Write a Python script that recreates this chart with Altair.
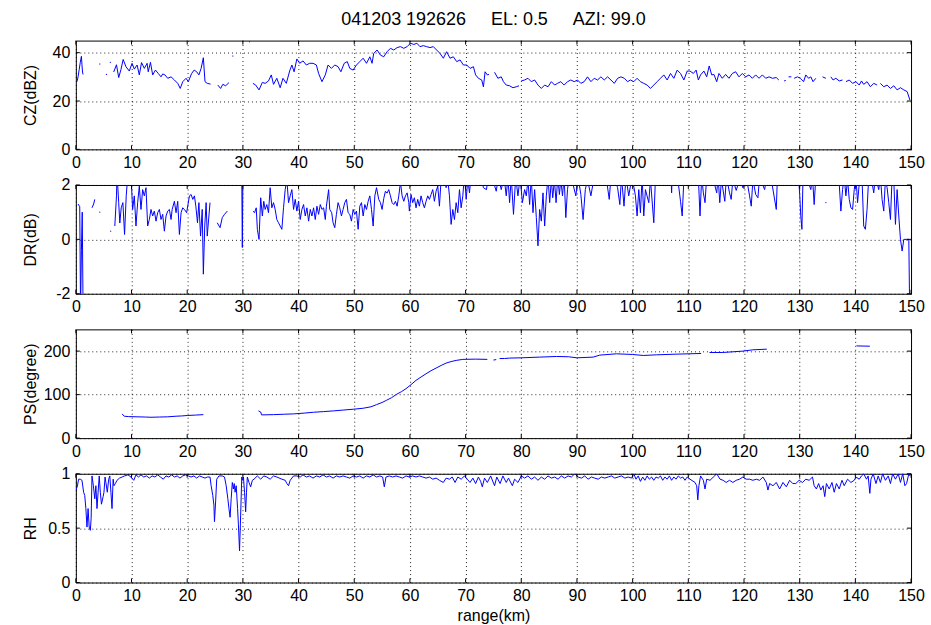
import altair as alt
import pandas as pd

# ---------------------------------------------------------------------------
# Radar ray data: (range km, value) pairs, None marks a gap in the ray
# ---------------------------------------------------------------------------
CZ = [
    (0.2, 28), (0.4, 30), (0.6, 33), (0.8, 36), (1.0, 38.5), (1.1, 35), (1.2, 32), (1.3, 31), None,
    (4.2, 35.3), (4.4, 35.3), None, (5.4, 31), (5.6, 31), None, (6.1, 36), (6.3, 36), None,
    (6.8, 32), (7.3, 35), (7.7, 29.7), (8.1, 33), (8.5, 37.2), (9.0, 34.2), (9.6, 32.4), (10.1, 35.6),
    (10.5, 33.2), (11.0, 34.9), (11.4, 30.8), (11.8, 35.9), (12.3, 33.5), (12.8, 35.6), (13.0, 32.1),
    (13.4, 36), (13.8, 30.8), (14.3, 32.8), (14.8, 31.4), (15.3, 30), (15.6, 31.2), (16.0, 30.8),
    (16.5, 29.4), (17.1, 30), (17.7, 28.7), (18.3, 27.3), (18.75, 25.2), (19.2, 28), (19.8, 29.4),
    (20.2, 28), (20.8, 31.4), (21.25, 32.8), (21.7, 32.1), (22.1, 30.8), (22.5, 33.5), (22.9, 37.9),
    (23.2, 28), (23.6, 27.3), (24.2, 27), None,
    (25.5, 26.6), (26.0, 25.2), (26.4, 26.9), (26.9, 26.3), (27.5, 27.6), None,
    (28.1, 38.6), (28.3, 38.6), None, (31.1, 44.5), (31.3, 44.5), None,
    (31.8, 27.3), (32.3, 26.6), (32.9, 24.6), (33.5, 27.7), (34.0, 27.3), (34.6, 28.3), (35.1, 30.8),
    (35.5, 26.9), (36.1, 29.4), (36.7, 25.5), (37.2, 29.4), (37.8, 27.3), (38.4, 32.4), (38.8, 34.9),
    (39.2, 32.1), (39.7, 37.4), (40.2, 35.6), (40.8, 36.6), (41.4, 34.9), (42.0, 35.6), (42.6, 35.6),
    (43.2, 34.9), (43.6, 31.4), (44.2, 28), (44.8, 30.8), (45.3, 34.9), (45.9, 33.5), (46.5, 34.9),
    (47.1, 34.2), (47.6, 32.1), (48.2, 35.6), (48.75, 36.3), (49.2, 33.5), (49.8, 32.8), (50.4, 34.9),
    (51.0, 36.3), (51.6, 37.7), (52.2, 35.6), (52.8, 38.3), (53.2, 35.6), (53.5, 39.7), (54.1, 41.1),
    (54.7, 39), (55.3, 38.3), (55.9, 40.4), (56.5, 41.8), (57.1, 41.1), (57.7, 42.1), (58.3, 42.5),
    (58.9, 41.8), (59.5, 42.5), (60.1, 43.9), (60.7, 43.4), (61.25, 43.9), (61.8, 42.5), (62.4, 42.9),
    (63.0, 42.5), (63.6, 42.1), (64.2, 42.5), (64.8, 41.1), (65.4, 39.7), (66.0, 37.7), (66.6, 40.4),
    (67.2, 37.7), (67.8, 38.3), (68.4, 36.3), (69.0, 37), (69.6, 34.9), (70.2, 34.9), (70.8, 33.5),
    (71.4, 34.2), (71.8, 30.8), (72.3, 29.4), (72.9, 28.7), (73.2, 25.9), (73.5, 32.1), (73.9, 30.8),
    (74.2, 31), None,
    (75.2, 31.9), (75.8, 29.4), (76.4, 30), (76.8, 28), (77.3, 26.6), (77.9, 26.3), (78.5, 25.5),
    (79.1, 25.9), (79.6, 26.3), None,
    (80.0, 28.3), (80.6, 28.7), (81.2, 29.4), (81.8, 28), (82.4, 28.7), (83.0, 26.6), (83.6, 25.2),
    (84.2, 26.6), (84.8, 25.9), (85.4, 28), (86.0, 26.6), (86.5, 27.3), (87.1, 28), (87.7, 26.6),
    (88.3, 28), (88.9, 28.7), (89.5, 28), (90.1, 28.7), (90.7, 27.3), (91.3, 28), (91.9, 30),
    (92.5, 28), (93.1, 29.4), (93.7, 28.7), (94.3, 30), (94.9, 28.7), (95.5, 30), (96.1, 28.7),
    (96.7, 27.3), (97.3, 29.4), (97.9, 30), (98.5, 29.4), (99.1, 28), (99.6, 28.7), (100.2, 28),
    (100.8, 29.4), (101.4, 28), (102.0, 27.3), (102.6, 26.6), (103.2, 25.2), (103.8, 26.6), (104.4, 28),
    (105.0, 29.4), (105.6, 30.8), (106.2, 28.7), (106.8, 31.4), (107.4, 29.4), (108.0, 32.8),
    (108.6, 31.4), (109.2, 28.7), (109.8, 32.4), (110.3, 32.4), (110.9, 31.4), (111.4, 32.8),
    (111.8, 28.7), (112.2, 30.8), (112.8, 32.4), (113.3, 30), (113.75, 34.5), (114.2, 30.8),
    (114.6, 31), (115.1, 28), (115.5, 31.4), (116.1, 29.4), (116.7, 31), (117.3, 29.4), (117.9, 31.4),
    (118.5, 32.1), (119.1, 30), (119.7, 31.4), (120.3, 30), (120.9, 30.8), (121.5, 29.4), (122.1, 30.8),
    (122.7, 29.4), (123.3, 30.8), (123.9, 29.4), (124.5, 30), (125.1, 29.4), (125.8, 29.7),
    (126.25, 28.7), None,
    (127.2, 28.3), (127.5, 28.5), None, (128.0, 30), (128.5, 30), None,
    (129.0, 29.4), (129.6, 30), (130.1, 29.4), (130.7, 28), (131.1, 30.8), (131.6, 29.4), (132.0, 30),
    (132.4, 28), (132.9, 29.4), None,
    (134.1, 30), (134.7, 29.4), None,
    (135.6, 30), (136.0, 28.7), (136.5, 29.4), (137.1, 28.3), (137.7, 28.7), None,
    (138.3, 28), (138.9, 28.7), (139.5, 27.3), (140.1, 28), (140.7, 26.6), (141.1, 28.3), (141.5, 26.9),
    (142.1, 28), (142.7, 25.9), (143.3, 27.3), (143.9, 26.6), None,
    (144.5, 27.3), (145.1, 25.9), (145.7, 26.6), (146.3, 25.2), (146.9, 26.3), (147.5, 24.6),
    (148.1, 25.5), (148.7, 24.6), (149.3, 23.9), (149.8, 20.4),
]

DR = [
    (0.4, 1.3), (0.7, 1.2), (0.85, -2.6), (1.0, -0.4), (1.15, 1.0), (1.3, -2.6), None,
    (2.9, 1.16), (3.2, 1.3), (3.4, 1.47), None, (4.2, 1.0), (4.4, 1.0), None, (6.15, 0.3), (6.35, 0.3), None,
    (7.0, 0.49), (7.3, 1.6), (7.4, 2.4), (7.7, 1.35), (7.9, 0.6), (8.15, 1.16), (8.45, 1.35), (8.75, 0.18),
    (9.05, 1.6), (9.35, 2.4), (9.6, 2.4), (9.9, 2.4), (10.2, 1.1), (10.5, 1.6), (10.8, 0.49), (11.1, 1.35),
    (11.4, 1.96), (11.7, 1.1), (12.0, 1.83), (12.3, 1.6), (12.6, 1.9), (12.9, 0.49), (13.2, 0.73),
    (13.5, 1.1), (13.8, 0.86), (14.1, 1.04), (14.4, 0.67), (14.7, 0.98), (15.0, 1.1), (15.3, 0.73),
    (15.6, 0.92), (15.9, 0.3), (16.2, 0.86), (16.5, 1.04), (16.8, 1.1), (17.1, 0.73), (17.3, 1.1),
    (17.7, 1.4), (18.0, 0.98), (18.3, 1.4), (18.6, 0.18), (18.9, 0.98), (19.2, 1.16), (19.5, 1.1),
    (19.9, 0.98), (20.4, 1.6), (20.7, 1.65), (21.0, 1.47), (21.3, 1.6), (21.55, 1.22), (21.85, 0.61),
    (22.1, 1.35), (22.4, 0.12), (22.7, 1.1), (22.9, -1.28), (23.15, 0.49), (23.4, 1.35), (23.6, 0.12),
    (23.9, 0.86), (24.1, 1.35), None,
    (25.4, 0.61), (25.9, 0.43), (26.3, 0.8), (26.7, 0.92), (27.2, 1.04), None,
    (29.8, 2.4), (29.9, -0.3), (30.0, 2.4), None,
    (31.8, 1.04), (32.1, 0.98), (32.4, 1.16), (32.6, 0.37), (32.9, 0.0), (33.2, 1.53), (33.5, 0.86),
    (33.75, 1.4), (34.0, 1.1), (34.3, 1.28), (34.6, 0.98), (34.9, 1.9), (35.2, 1.16), (35.5, 1.35),
    (35.8, 1.1), (36.1, 0.73), (36.4, 0.61), (36.7, 0.49), (37.0, 0.37), (37.3, 1.16), (37.6, 1.83),
    (37.9, 2.2), (38.2, 1.35), (38.5, 1.6), (38.8, 1.83), (39.1, 1.1), (39.4, 1.47), (39.7, 1.04),
    (40.0, 1.4), (40.3, 0.73), (40.6, 1.1), (40.9, 1.28), (41.2, 0.86), (41.5, 1.16), (41.8, 0.67),
    (42.1, 1.1), (42.4, 0.86), (42.7, 1.16), (43.0, 0.73), (43.3, 1.22), (43.6, 0.92), (43.9, 1.28),
    (44.2, 1.1), (44.5, 1.16), (44.8, 0.73), (45.0, 1.22), (45.4, 1.83), (45.6, 1.1), (45.95, 0.98),
    (46.2, 0.61), (46.5, 0.43), (46.8, 0.92), (47.1, 1.35), (47.4, 1.16), (47.7, 0.86), (48.0, 1.1),
    (48.3, 1.35), (48.6, 1.47), (48.9, 0.98), (49.2, 0.92), (49.5, 0.67), (49.8, 1.1), (50.1, 0.92),
    (50.4, 1.04), (50.7, 0.37), (51.0, 1.22), (51.3, 1.35), (51.6, 0.86), (51.9, 1.28), (52.2, 1.1),
    (52.5, 1.4), (52.8, 1.6), (53.1, 1.1), (53.4, 0.49), (53.7, 1.6), (54.0, 1.9), (54.4, 1.47),
    (54.7, 1.35), (55.0, 1.1), (55.3, 1.5), (55.6, 1.77), (55.9, 1.7), (56.2, 1.83), (56.5, 1.6),
    (56.8, 1.35), (57.1, 1.28), (57.4, 1.4), (57.7, 1.22), (58.0, 1.6), (58.3, 2.1), (58.6, 1.6),
    (58.9, 1.4), (59.2, 1.6), (59.5, 1.71), (59.8, 1.35), (59.9, 1.04), (60.2, 1.65), (60.5, 1.35),
    (60.8, 1.53), (61.1, 1.16), (61.4, 1.47), (61.7, 1.22), (62.0, 1.6), (62.3, 1.35), (62.6, 1.16),
    (62.9, 1.4), (63.2, 1.6), (63.5, 1.47), (63.8, 1.65), (64.1, 1.83), (64.4, 1.4), (64.7, 1.77),
    (65.0, 1.96), (65.3, 1.22), (65.6, 2.2), (65.9, 1.96), (66.2, 2.2), (66.5, 1.9), (66.8, 2.2),
    (67.1, 1.6), (67.4, 0.55), (67.7, 1.1), (68.0, 0.73), (68.3, 1.35), (68.6, 0.98), (68.9, 1.83),
    (69.2, 1.16), (69.5, 1.6), (69.8, 2.4), (70.1, 1.47), (70.4, 2.2), (70.7, 1.71), (71.0, 2.4),
    (71.4, 1.96), (72.0, 2.2), (72.6, 2.4), (73.2, 1.9), (73.75, 1.83), (74.0, 2.2), (74.6, 2.4),
    (75.5, 1.77), (75.9, 2.3), (76.4, 1.83), (76.9, 2.3), (77.3, 1.6), (77.6, 2.3), (77.9, 1.35),
    (78.2, 2.3), (78.6, 0.92), (79.0, 2.3), (79.4, 1.6), (79.8, 2.3), (80.2, 1.35), (80.6, 1.83),
    (80.9, 1.6), (81.2, 2.2), (81.5, 1.28), (81.8, 2.3), (82.1, 0.98), (82.4, 1.83), (82.7, 0.8),
    (82.9, 0.12), (83.0, -0.24), (83.3, 1.1), (83.6, 0.67), (83.9, 1.71), (84.2, 0.49), (84.5, 1.6),
    (84.8, 2.3), (85.1, 1.35), (85.4, 2.2), (85.65, 1.53), (85.95, 2.2), (86.25, 1.35), (86.55, 2.3),
    (86.85, 1.65), (87.1, 2.2), (87.4, 1.6), (87.7, 2.3), (88.0, 0.8), (88.3, 1.83), (88.6, 2.3),
    (89.2, 2.1), (89.8, 1.6), (90.2, 2.3), (90.7, 1.65), (91.1, 0.73), (91.5, 1.83), (91.9, 2.2),
    (92.5, 1.6), (93.1, 2.3), (93.8, 2.4), (94.6, 2.3), (95.3, 2.2), (95.8, 1.47), (96.1, 2.3),
    (96.8, 2.2), (97.3, 1.9), (97.7, 1.28), (98.0, 2.3), (98.45, 1.22), (98.8, 2.3), (99.3, 1.6),
    (99.9, 2.3), (100.5, 1.6), (100.8, 0.86), (101.1, 1.83), (101.4, 0.98), (101.7, 2.3), (102.0, 0.86),
    (102.3, 1.83), (102.9, 1.35), (103.2, 2.2), (103.8, 0.61), (104.1, 2.3), (104.4, 2.2), (105.0, 2.4),
    (106.0, 2.4), (106.9, 2.3), (107.0, 1.71), (107.1, 2.3), (108.0, 2.4), (108.6, 1.4), (108.9, 0.86),
    (109.2, 2.2), (109.7, 2.1), (110.3, 2.2), (111.0, 2.1), (111.8, 2.3), (112.1, 0.86), (112.4, 2.3),
    (112.7, 1.71), (113.0, 1.35), (113.3, 2.3), (114.5, 2.2), (115.1, 1.71), (115.35, 2.3),
    (115.65, 1.35), (115.95, 2.2), (116.55, 1.4), (116.85, 2.3), (117.4, 1.71), (117.7, 1.47),
    (118.0, 2.2), (118.6, 1.8), (119.2, 2.2), (119.8, 1.9), (120.4, 2.3), (121.0, 1.6), (121.3, 1.22),
    (121.6, 2.2), (122.1, 1.65), (122.5, 1.53), (122.8, 2.3), (123.7, 1.83), (124.1, 2.3), (124.9, 2.2),
    (125.8, 1.1), (126.0, 2.3), (127.5, 2.4), (129.0, 2.4), (129.8, 2.3), (130.0, 1.65), (130.2, 0.86),
    (130.4, 0.37), (130.6, 2.3), (131.4, 2.2), (132.0, 1.83), (132.3, 2.3), (132.6, 1.28), (132.9, 2.3),
    (133.5, 2.4), None,
    (134.6, 1.35), (134.8, 1.35), None,
    (137.0, 2.4), (137.4, 1.04), (137.7, 1.83), (138.0, 2.3), (138.3, 1.6), (138.6, 2.2), (138.9, 1.47),
    (139.2, 1.16), (139.5, 1.1), (139.8, 1.83), (140.1, 2.3), (140.4, 1.35), (140.8, 2.3), (141.2, 2.2),
    (141.5, 0.49), (141.8, 0.37), (142.1, 1.1), (142.4, 2.3), (142.9, 2.2), (143.3, 1.71), (143.6, 2.3),
    (144.2, 1.83), (144.5, 2.3), (144.8, 1.47), (145.1, 1.04), (145.4, 2.2), (145.7, 1.9), (146.0, 1.35),
    (146.3, 0.73), (146.6, 2.3), (146.9, 2.2), (147.2, 0.55), (147.5, 1.83), (147.8, 0.86), (148.1, 0.0),
    (148.4, -0.43), (148.7, 0.0), (149.6, 0.0), (149.75, -2.6),
]

PS = [
    (8.3, 55.7), (8.7, 50.4), (9.5, 49.5), (11.0, 49), (12.5, 48.5), (13.5, 48), (15.0, 48.5),
    (16.5, 49), (18.0, 50.4), (19.0, 51), (20.0, 52), (21.5, 53), (22.9, 54), None,
    (32.8, 62.6), (33.2, 60), (33.35, 53.4), (35.5, 54), (37.5, 55), (39.1, 55.7), (41.0, 57.5),
    (42.7, 59.5), (44.5, 61), (46.25, 62.6), (48.0, 64.5), (49.8, 66.4), (51.6, 68.7), (53.0, 72),
    (54.0, 77), (55.0, 82), (55.8, 87), (56.7, 93), (57.6, 100.7), (58.5, 107), (59.3, 113.7),
    (60.2, 123), (61.1, 132.8), (62.0, 140.5), (62.9, 148), (63.8, 155), (64.7, 161), (65.6, 167),
    (66.5, 172.5), (67.4, 176), (68.3, 178.6), (69.5, 181), (71.8, 181.6), (73.9, 181), None,
    (75.0, 179.5), (75.5, 180.5), None,
    (76.1, 183), (77.0, 183), (77.9, 184), (80.0, 184.6), (83.3, 186.2), (86.3, 187.7), (88.5, 187),
    (90.0, 184.6), (92.9, 186.2), (94.1, 190.8), (97.1, 193.8), (100.0, 192.3), (101.9, 190),
    (104.3, 191.5), (107.8, 193), (112.3, 194.6), None,
    (113.8, 196.9), (116.2, 196.9), (119.8, 200), (121.6, 203), (124.1, 204.5), None,
    (140.2, 212), (142.6, 211.3),
]

RH = [
    (0.0, 0.85), (0.25, 0.88), (0.5, 0.95), (0.8, 0.95), (1.1, 0.94), (1.4, 0.83), (1.6, 0.8),
    (1.8, 0.68), (2.0, 0.51), (2.2, 0.68), (2.4, 0.51), (2.6, 0.48), (2.75, 0.59), (2.9, 0.98),
    (3.15, 0.89), (3.4, 0.77), (3.6, 0.89), (3.8, 0.68), (4.0, 0.83), (4.2, 0.98), (4.4, 0.83),
    (4.6, 0.72), (4.9, 0.79), (5.05, 0.83), (5.25, 0.97), (5.4, 0.92), (5.65, 0.83), (5.9, 0.95),
    (6.1, 0.98), (6.3, 0.83), (6.5, 0.68), (6.7, 0.95), (6.85, 0.89), (7.1, 0.91), (7.4, 0.94),
    (7.85, 0.96), (8.3, 0.97), (8.75, 0.98), (9.35, 0.99), (9.9, 0.97), (10.4, 0.94), (10.8, 0.99),
    (11.25, 0.97), (11.7, 0.99), (12.2, 0.97), (12.7, 0.98), (13.2, 0.96), (13.7, 0.98), (14.2, 0.97),
    (14.7, 0.99), (15.2, 0.97), (15.7, 0.95), (16.2, 0.98), (16.7, 0.97), (17.2, 0.99), (17.7, 0.97),
    (18.2, 0.98), (18.7, 0.96), (19.2, 0.98), (19.7, 0.99), (20.2, 0.98), (20.7, 0.97), (21.2, 0.98),
    (21.7, 0.96), (22.2, 0.98), (22.7, 0.97), (23.2, 0.96), (23.6, 0.97), (24.1, 0.97), (24.3, 0.89),
    (24.6, 0.8), (24.8, 0.71), (24.9, 0.56), (25.1, 0.74), (25.3, 0.95), (25.7, 0.98), (26.3, 0.98),
    (26.7, 0.97), (27.0, 0.89), (27.3, 0.77), (27.5, 0.68), (27.7, 0.6), (27.9, 0.77), (28.1, 0.92),
    (28.3, 0.86), (28.45, 0.91), (28.6, 0.83), (28.8, 0.89), (29.05, 0.68), (29.2, 0.53), (29.4, 0.29),
    (29.6, 0.62), (29.8, 0.97), (29.95, 0.94), (30.1, 0.97), (30.3, 0.83), (30.5, 0.65), (30.65, 0.83),
    (30.8, 0.97), (31.1, 0.92), (31.4, 0.88), (31.7, 0.94), (32.0, 0.95), (32.6, 0.98), (33.2, 0.95),
    (33.75, 0.98), (34.3, 0.97), (34.9, 0.95), (35.5, 0.98), (36.1, 0.97), (37.0, 0.95), (37.6, 0.94),
    (37.9, 0.91), (38.2, 0.89), (38.5, 0.94), (39.1, 0.98), (39.7, 0.98), (40.3, 0.97), (40.8, 0.99),
    (41.4, 0.97), (42.0, 0.98), (42.6, 0.96), (43.2, 0.98), (43.8, 0.97), (44.4, 0.99), (45.0, 0.97),
    (45.6, 0.98), (46.2, 0.96), (46.8, 0.98), (47.4, 0.97), (48.0, 0.98), (48.6, 0.97), (49.2, 0.96),
    (49.8, 0.98), (50.4, 0.97), (51.0, 0.98), (51.6, 0.96), (52.2, 0.98), (52.8, 0.97), (53.4, 0.99),
    (54.0, 0.97), (54.6, 0.98), (55.1, 0.97), (55.4, 0.88), (55.7, 0.97), (56.3, 0.98), (56.9, 0.97),
    (57.5, 0.98), (58.1, 0.97), (58.7, 0.96), (59.3, 0.98), (59.9, 0.97), (60.5, 0.98), (61.1, 0.97),
    (61.7, 0.98), (62.3, 0.97), (62.9, 0.96), (63.5, 0.97), (64.1, 0.95), (64.7, 0.96), (65.3, 0.94),
    (66.0, 0.92), (66.5, 0.96), (67.1, 0.95), (67.6, 0.97), (68.1, 0.92), (68.6, 0.97), (69.2, 0.95),
    (69.8, 0.98), (70.3, 0.95), (70.8, 0.92), (71.3, 0.96), (71.8, 0.91), (72.3, 0.97), (72.7, 0.93),
    (73.0, 0.88), (73.4, 0.96), (73.9, 0.92), (74.5, 0.98), (75.2, 0.89), (75.6, 0.97), (76.2, 0.91),
    (76.7, 0.98), (77.3, 0.92), (77.7, 0.96), (78.4, 0.89), (78.8, 0.95), (79.4, 0.92), (80.0, 0.98),
    (80.6, 0.96), (81.2, 0.98), (81.8, 0.95), (82.4, 0.97), (83.0, 0.94), (83.6, 0.97), (84.2, 0.95),
    (84.8, 0.98), (85.4, 0.96), (86.0, 0.97), (86.6, 0.95), (87.2, 0.98), (87.8, 0.96), (88.4, 0.98),
    (89.0, 0.97), (89.6, 1.0), (90.2, 0.97), (90.8, 0.96), (91.4, 0.98), (92.0, 0.95), (92.6, 0.97),
    (93.2, 0.96), (93.8, 0.95), (94.4, 0.97), (95.0, 0.96), (95.6, 0.97), (96.2, 0.98), (96.8, 0.96),
    (97.4, 0.97), (98.0, 0.98), (98.6, 0.96), (99.2, 0.97), (99.8, 0.96), (100.2, 1.0), (100.6, 0.95),
    (101.0, 0.98), (101.4, 0.93), (101.8, 0.97), (102.2, 0.94), (102.6, 0.98), (103.0, 0.95),
    (103.4, 0.97), (103.8, 0.94), (104.2, 0.97), (104.6, 0.96), (105.0, 0.98), (105.4, 0.94),
    (105.8, 0.97), (106.2, 0.95), (106.6, 0.98), (107.0, 0.94), (107.4, 0.97), (107.8, 0.95),
    (108.2, 0.98), (108.6, 0.96), (109.0, 0.97), (109.4, 0.94), (109.8, 0.97), (110.3, 0.95),
    (111.2, 0.92), (111.5, 0.89), (111.7, 0.76), (111.9, 0.89), (112.2, 0.98), (112.7, 0.94),
    (113.0, 0.86), (113.3, 0.95), (113.9, 0.94), (114.5, 0.97), (115.1, 1.0), (115.7, 0.95),
    (116.25, 0.94), (116.8, 0.92), (117.4, 0.94), (118.0, 0.92), (118.6, 0.94), (119.2, 0.95),
    (119.8, 0.97), (120.4, 0.95), (121.0, 0.95), (121.6, 0.94), (122.2, 0.95), (122.8, 0.94),
    (123.4, 0.97), (124.0, 0.92), (124.3, 0.85), (124.6, 0.91), (125.2, 0.89), (125.8, 0.92),
    (126.4, 0.86), (127.0, 0.92), (127.6, 0.88), (128.2, 0.94), (128.75, 0.91), (129.3, 0.91),
    (129.9, 0.94), (130.5, 0.92), (131.1, 0.95), (131.7, 0.94), (132.3, 0.97), (132.6, 0.89),
    (133.0, 0.86), (133.4, 0.91), (133.8, 0.85), (134.2, 0.89), (134.5, 0.79), (134.8, 0.91),
    (135.3, 0.86), (135.8, 0.92), (136.2, 0.83), (136.6, 0.91), (137.1, 0.86), (137.6, 0.94),
    (138.0, 0.89), (138.6, 0.95), (139.2, 0.92), (139.8, 0.94), (140.1, 0.97), (140.7, 0.95),
    (141.1, 0.98), (141.5, 1.0), (142.0, 0.95), (142.3, 0.98), (142.6, 0.82), (142.8, 0.95),
    (143.2, 1.0), (143.7, 0.91), (144.1, 0.98), (144.5, 0.92), (144.9, 1.0), (145.4, 0.94),
    (145.9, 0.98), (146.3, 0.91), (146.7, 1.0), (147.2, 0.95), (147.7, 1.0), (148.1, 0.92),
    (148.5, 1.0), (148.9, 0.89), (149.2, 0.91), (149.6, 1.0), (149.8, 0.98),
]

X_TICKS = list(range(0, 151, 10))
TITLE = "041203 192626\u00a0\u00a0\u00a0\u00a0\u00a0EL: 0.5\u00a0\u00a0\u00a0\u00a0\u00a0AZI: 99.0"

W, H = 837, 109
TICK = 4
FONT = "Liberation Sans"
BLUE = "#0000ff"


def to_frame(points):
    """Turn a gap-separated point list into rows with a segment id."""
    rows, seg = [], 0
    for p in points:
        if p is None:
            seg += 1
            continue
        rows.append({"range": p[0], "value": p[1], "seg": seg})
    return pd.DataFrame(rows)


def panel(points, y_domain, y_ticks, y_title, x_title=None):
    xs = alt.Scale(domain=[0, 150], nice=False, zero=False)
    ys = alt.Scale(domain=y_domain, nice=False, zero=False)
    x_axis = alt.Axis(values=X_TICKS, title=x_title, labelFlush=False)
    y_axis = alt.Axis(values=y_ticks, title=y_title, titleX=-45, titleY=H / 2,
                      titleAlign="center", titleBaseline="middle",
                      labelExpr="'' + datum.value")
    X = alt.X("range:Q", scale=xs, axis=x_axis)
    Y = alt.Y("value:Q", scale=ys, axis=y_axis)

    line = alt.Chart(to_frame(points)).mark_line(
        color=BLUE, strokeWidth=1, clip=True
    ).encode(x=X, y=Y, detail="seg:N")

    xt = pd.DataFrame({"range": X_TICKS})
    yt = pd.DataFrame({"value": y_ticks})
    tick = dict(color="black", strokeWidth=1)
    x_bottom = alt.Chart(xt).mark_rule(**tick).encode(x=X, y=alt.value(H), y2=alt.value(H - TICK))
    x_top = alt.Chart(xt).mark_rule(**tick).encode(x=X, y=alt.value(0), y2=alt.value(TICK))
    y_left = alt.Chart(yt).mark_rule(**tick).encode(y=Y, x=alt.value(0), x2=alt.value(TICK))
    y_right = alt.Chart(yt).mark_rule(**tick).encode(y=Y, x=alt.value(W - TICK), x2=alt.value(W))

    return alt.layer(line, x_bottom, x_top, y_left, y_right).properties(width=W, height=H)


p_cz = panel(CZ, [0, 45], [0, 20, 40], "CZ(dBZ)").properties(
    title=alt.TitleParams(TITLE, anchor="middle", frame="group", font=FONT,
                          fontSize=18, fontWeight="normal", color="black", offset=11)
)
p_dr = panel(DR, [-2, 2], [-2, 0, 2], "DR(dB)")
p_ps = panel(PS, [0, 250], [0, 100, 200], "PS(degree)")
p_rh = panel(RH, [0, 1], [0, 0.5, 1], "RH", x_title="range(km)")

chart = (
    alt.vconcat(p_cz, p_dr, p_ps, p_rh, spacing=35.7, bounds="flush")
    .properties(padding={"left": 22, "top": 10, "right": 6, "bottom": 3})
    .configure(font=FONT)
    .configure_view(stroke="#000000", strokeWidth=1)
    .configure_axis(
        labelFont=FONT, labelFontSize=16, labelColor="#000000",
        titleFont=FONT, titleFontSize=16, titleFontWeight="normal", titleColor="#000000",
        grid=True, gridColor="#000000", gridDash=[1, 3], gridWidth=1, gridOpacity=0.85,
        domain=False, ticks=False,
    )
    .configure_axisX(labelPadding=5, titlePadding=4)
    .configure_axisY(labelPadding=6)
)

chart.save("out.html", embed_options={"renderer": "svg", "actions": False})
